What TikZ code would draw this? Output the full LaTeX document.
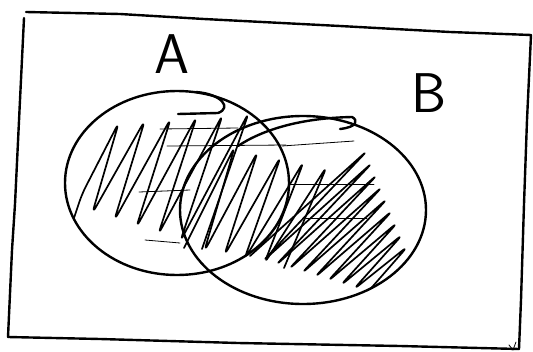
\documentclass[tikz,border=0pt]{standalone}
\tikzset{
  pen/.style={line width=2.4pt},
  scribble/.style={line width=1.7pt, rounded corners=8pt},
  faint/.style={line width=0.8pt},
  setlab/.style={font=\sffamily\fontsize{56}{56}\selectfont, inner sep=0pt}
}
\begin{document}
\begin{tikzpicture}[x=1pt,y=1pt, line cap=round, line join=round]
\useasboundingbox (0,0) rectangle (533,-351);

% 外框四角
\coordinate (tl) at (26,-12);
\coordinate (tr) at (531,-35);
\coordinate (br) at (519,-349);
\coordinate (bl) at (8,-337);

% 两个集合的中心
\coordinate (cA) at (177,-183);
\coordinate (cB) at (303,-210);

% 外框（手绘）
\draw[pen] (tl) -- (120,-14) -- (204,-19) -- (340,-26) -- (450,-32) -- (tr);
\draw[pen] (tr) -- (527,-120) -- (524,-204) -- (521,-300) -- (br);
\draw[pen] (br) -- (400,-346) -- (238,-343) -- (100,-339) -- (bl);
\draw[pen] (bl) -- (12,-250) -- (15,-204) -- (20,-100) -- (24,-18);
\draw[faint] (509,-345) -- (513,-350) -- (516,-342);

% 涂黑部分 A 并 B
\begin{scope}
  \clip (cA) ellipse [x radius=112, y radius=92]
        (cB) ellipse [x radius=123, y radius=94];
  \draw[scribble] (74,-218) -- (82,-194)
    \foreach \i in {0,...,5} { -- ({119+26*\i},{-122+2*\i}) -- ({92+22*\i},{-214-7*\i}) };
  \draw[scribble] (184,-248)
    \foreach \i in {0,...,4} { -- ({235+23*\i},{-146-5*\i}) -- ({204+20*\i},{-252-4*\i}) };
  \draw[scribble] (250,-256)
    \foreach \i in {0,...,8} { -- ({368+5*\i},{-150-12*\i}) -- ({262+13*\i},{-262-4*\i}) };
  % 横向细线
  \draw[faint] (160,-129) -- (238,-128);
  \draw[faint] (167,-146) -- (286,-145);
  \draw[faint] (139,-192) -- (190,-190);
  \draw[faint] (145,-240) -- (180,-243);
  \draw[faint] (282,-146) -- (354,-141);
  \draw[faint] (289,-184) -- (374,-184);
  \draw[faint] (306,-218) -- (367,-218);
\end{scope}

% 两个椭圆
\draw[pen] (cA) ellipse [x radius=112, y radius=92];
\draw[pen] (cB) ellipse [x radius=123, y radius=94];

% 起笔的小钩
\draw[pen] (196,-92) .. controls (222,-94) and (232,-108) .. (218,-113) -- (178,-114);
\draw[pen] (238,-146) .. controls (262,-130) and (300,-118) .. (352,-117)
  .. controls (358,-120) and (358,-127) .. (340,-129);

% 集合名
\node[setlab] (labA) at (172,-54) {A};
\node[setlab] (labB) at (429,-93) {B};

\end{tikzpicture}
\end{document}
